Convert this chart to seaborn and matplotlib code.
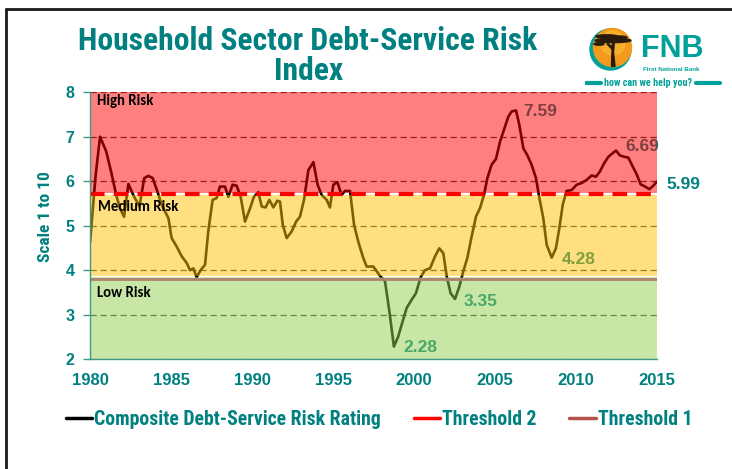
import matplotlib
matplotlib.use("Agg")
import numpy as np
import pandas as pd
import matplotlib.pyplot as plt
import seaborn as sns
from matplotlib import font_manager
from matplotlib.font_manager import FontProperties
from matplotlib.lines import Line2D
from matplotlib.patches import Circle, Ellipse, Polygon

# ---- data -------------------------------------------------------------
years = [
    1980.00, 1980.35, 1980.62, 1981.00, 1981.30, 1981.62, 1981.85, 1982.10,
    1982.37, 1982.67, 1983.05, 1983.35, 1983.60, 1983.87, 1984.16, 1984.42,
    1984.84, 1985.04, 1985.35, 1985.66, 1985.97, 1986.17, 1986.38, 1986.58,
    1986.83, 1987.10, 1987.30, 1987.57, 1987.82, 1988.02, 1988.33, 1988.54,
    1988.80, 1989.05, 1989.30, 1989.57, 1989.88, 1990.12, 1990.39, 1990.60,
    1990.84, 1991.07, 1991.32, 1991.56, 1991.73, 1991.90, 1992.14, 1992.45,
    1992.72, 1992.96, 1993.21, 1993.48, 1993.79, 1994.05, 1994.30, 1994.61,
    1994.81, 1995.02, 1995.27, 1995.53, 1995.74, 1996.05, 1996.30, 1996.56,
    1996.87, 1997.08, 1997.49, 1997.90, 1998.21, 1998.48, 1998.76, 1999.03,
    1999.30, 1999.55, 1999.85, 2000.12, 2000.41, 2000.68, 2000.99, 2001.30,
    2001.56, 2001.81, 2002.02, 2002.26, 2002.53, 2002.80, 2003.04, 2003.29,
    2003.56, 2003.83, 2004.07, 2004.32, 2004.53, 2004.79, 2005.06, 2005.31,
    2005.55, 2005.82, 2006.03, 2006.30, 2006.50, 2006.75, 2006.99, 2007.26,
    2007.53, 2007.74, 2007.98, 2008.19, 2008.50, 2008.76, 2008.97, 2009.18,
    2009.42, 2009.73, 2010.04, 2010.35, 2010.66, 2010.97, 2011.23, 2011.48,
    2011.73, 2012.00, 2012.26, 2012.47, 2012.71, 2012.96, 2013.23, 2013.50,
    2013.74, 2013.99, 2014.26, 2014.53, 2014.77, 2015.00,
]
rating = [
    4.61, 6.14, 7.00, 6.67, 6.22, 5.69, 5.39, 5.20,
    5.94, 5.69, 5.43, 6.07, 6.12, 6.07, 5.77, 5.47,
    5.17, 4.72, 4.53, 4.31, 4.16, 4.00, 4.04, 3.84,
    4.00, 4.12, 4.87, 5.58, 5.62, 5.88, 5.88, 5.65,
    5.92, 5.90, 5.65, 5.09, 5.39, 5.65, 5.75, 5.43,
    5.41, 5.58, 5.41, 5.56, 5.54, 5.02, 4.72, 4.87,
    5.09, 5.20, 5.58, 6.25, 6.43, 5.92, 5.69, 5.58,
    5.41, 5.92, 5.98, 5.69, 5.78, 5.78, 5.02, 4.64,
    4.27, 4.08, 4.08, 3.87, 3.75, 3.07, 2.28, 2.51,
    2.85, 3.15, 3.33, 3.48, 3.84, 4.00, 4.04, 4.31,
    4.49, 4.38, 3.86, 3.48, 3.35, 3.63, 3.97, 4.27,
    4.76, 5.21, 5.39, 5.69, 6.07, 6.37, 6.50, 6.89,
    7.15, 7.45, 7.57, 7.59, 7.27, 6.74, 6.59, 6.37,
    6.07, 5.62, 5.17, 4.57, 4.28, 4.49, 4.94, 5.47,
    5.78, 5.80, 5.92, 5.96, 6.03, 6.13, 6.10, 6.22,
    6.40, 6.55, 6.63, 6.69, 6.58, 6.55, 6.53, 6.33,
    6.16, 5.93, 5.88, 5.82, 5.90, 5.99,
]
threshold_2 = 5.72
threshold_1 = 3.81
zone_names = ["Low Risk", "Medium Risk", "High Risk"]
zone_low = [2.0, 3.87, 5.745]
zone_high = [3.84, 5.695, 8.0]
zone_colors = ["#92D050", "#FFC000", "#FF0000"]
x_ticks = [1980, 1985, 1990, 1995, 2000, 2005, 2010, 2015]
y_ticks = [2, 3, 4, 5, 6, 7, 8]
series_label = "Composite Debt-Service Risk Rating"
title = "Household Sector Debt-Service Risk\nIndex"

df = pd.DataFrame({"year": years, "rating": rating})

# ---- fonts / colours -----------------------------------------------------
sns.set_style("white")
fonts = font_manager.fontManager.ttflist
installed = {f.name for f in fonts}
body = "Liberation Sans" if "Liberation Sans" in installed else "DejaVu Sans"
calib = "Carlito" if "Carlito" in installed else "Lato"
plt.rcParams["font.family"] = [body, "DejaVu Sans"]


def find_condensed_bold():
    prefs = ["Liberation Sans Narrow", "Roboto Condensed", "Open Sans Condensed",
             "DejaVu Sans Condensed", "Noto Sans Condensed"]
    cands = [f for f in fonts
             if ("Narrow" in f.name or "Condensed" in f.name
                 or "Condensed" in f.fname or "condensed" in str(f.stretch))
             and (f.weight in ("bold", 700) or "Bold" in f.fname)
             and "Oblique" not in f.fname and "Italic" not in f.fname]
    for p in prefs:
        for f in cands:
            if f.name == p or p.replace(" ", "") in f.fname.replace(" ", ""):
                return f.fname
    return cands[0].fname if cands else None


cond_file = find_condensed_bold()
if cond_file:
    def narrow_fp(size):
        return FontProperties(fname=cond_file, size=size)
else:
    def narrow_fp(size):
        return FontProperties(family=[body, "DejaVu Sans"], weight="bold", size=size * 0.88)

TEAL = "#008080"
AXIS = "#3D9A84"

fig = plt.figure(figsize=(7.32, 4.69), dpi=100)
ax = fig.add_axes([90 / 732, 1 - 359 / 469, 567 / 732, (359 - 92.3) / 469])

# dashed grid sits under the coloured zones
ax.set_axisbelow(True)
ax.yaxis.grid(True, color="#3c3c3c", lw=0.9, ls=(0, (5, 3)))
ax.xaxis.grid(False)

# series (under the translucent zones so it picks up their tint)
sns.lineplot(data=df, x="year", y="rating", ax=ax, color="black", lw=1.9,
             zorder=2, legend=False)

vals = np.asarray(rating)
yrs = np.asarray(years)


def mark(idx, dx, dy, color, z):
    ax.annotate(f"{vals[idx]:.2f}", (yrs[idx], vals[idx]), xytext=(dx, dy),
                textcoords="offset points", ha="left", va="center",
                fontsize=12.5, fontweight="bold", color=color, zorder=z,
                annotation_clip=False)


i_max = int(np.argmax(vals))
i_min = int(np.argmin(vals))
i_2012 = int(np.argmax(np.where(yrs > 2010, vals, -1)))
i_2002 = int(np.argmin(np.where((yrs > 2001.5) & (yrs < 2004), vals, 99)))
i_2008 = int(np.argmin(np.where(yrs > 2007.5, vals, 99)))
mark(i_max, 5, -1, TEAL, 2)
mark(i_2012, 7, 3, TEAL, 2)
mark(i_2008, 7, -1, TEAL, 2)
mark(i_2002, 6, -2, TEAL, 2)
mark(i_min, 6.5, -1, TEAL, 2)
mark(len(vals) - 1, 6.5, -2, TEAL, 6)

# risk zones
for lo, hi, c in zip(zone_low, zone_high, zone_colors):
    ax.axhspan(lo, hi, color=c, alpha=0.5, lw=0, zorder=3)

ax.axhline(threshold_2, color="#FF0000", lw=3, ls=(0, (3.5, 2.2)), zorder=4)
ax.axhline(threshold_1, color="#B08070", lw=2, zorder=4)

zone_text_pos = [(1980.45, 3.48), (1980.5, 5.43), (1980.42, 7.8)]
for name, (tx, ty) in zip(zone_names, zone_text_pos):
    ax.text(tx, ty, name, fontsize=10.6, fontweight="bold", family=calib,
            color="black", ha="left", va="center", zorder=5)

# axes
ax.set_xlim(1980, 2015)
ax.set_ylim(2, 8)
ax.set_xticks(x_ticks)
ax.set_xticks(np.arange(1980, 2016, 1), minor=True)
ax.set_yticks(y_ticks)
ax.tick_params(axis="x", which="both", direction="out", length=5, width=1,
               color=AXIS, pad=5, labelsize=12, labelcolor=TEAL)
ax.tick_params(axis="y", which="both", direction="out", length=5, width=1,
               color=AXIS, pad=6, labelsize=11.5, labelcolor=TEAL, left=True)
for lab in ax.get_xticklabels() + ax.get_yticklabels():
    lab.set_fontweight("bold")
for side in ["top", "right"]:
    ax.spines[side].set_visible(False)
for side in ["left", "bottom"]:
    ax.spines[side].set_color(AXIS)
    ax.spines[side].set_linewidth(1)
    ax.spines[side].set_zorder(6)
ax.set_xlabel("")
ax.set_ylabel("Scale 1 to 10", color=TEAL, fontproperties=narrow_fp(12.5))
ax.yaxis.set_label_coords(-0.066, 0.535)

# title
fig.text(0.421, 1 - 56 / 469, title, ha="center", va="center", color=TEAL,
         fontproperties=narrow_fp(22.8), linespacing=1.0)

# legend
handles = [Line2D([], [], color="black", lw=2.5),
           Line2D([], [], color="#FF0000", lw=2.5),
           Line2D([], [], color="#B5504A", lw=2.5)]
labels = [series_label, "Threshold 2", "Threshold 1"]
fig.legend(handles, labels, loc="center", bbox_to_anchor=(0.518, 1 - 419 / 469),
           ncol=3, frameon=False, handlelength=1.35, handletextpad=0.1,
           columnspacing=1.65, labelcolor=TEAL, prop=narrow_fp(14.2))

# page frame
fig.add_artist(Line2D([6 / 732, 6 / 732], [0, 1 - 9 / 469], transform=fig.transFigure,
                      color="#1a1a1a", lw=2))
fig.add_artist(Line2D([6 / 732, 1], [1 - 9 / 469, 1 - 9 / 469], transform=fig.transFigure,
                      color="#1a1a1a", lw=2))

# bank logo
logo = fig.add_axes([585 / 732, 1 - 92 / 469, 140 / 732, 70 / 469])
logo.set_xlim(0, 140)
logo.set_ylim(70, 0)
logo.set_aspect("equal")
logo.axis("off")
LOGO_TEAL = "#00A19A"
TREE = "#2A1A0C"
logo.add_patch(Circle((25.5, 27.5), 20.5, color=LOGO_TEAL))
logo.add_patch(Circle((27.5, 25.5), 19, color="#F39A1E"))
logo.add_patch(Circle((28, 21), 12, color="#FBC234", alpha=0.55))
# acacia: thin curved trunk and a flat layered canopy
logo.add_patch(Polygon([(27.5, 19), (29.5, 19), (28.5, 30), (30, 44.3), (26.5, 44.3),
                        (27, 30)], color=TREE))
logo.add_patch(Polygon([(28.5, 26), (23, 21.5), (22, 22), (27.8, 28)], color=TREE))
logo.add_patch(Ellipse((28, 18.5), 36, 4.2, color=TREE))
logo.add_patch(Ellipse((22, 14.5), 22, 3.4, color=TREE))
logo.add_patch(Ellipse((34, 15.5), 16, 3.0, color=TREE))
logo.add_patch(Ellipse((14, 22), 10, 2.4, color=TREE))
logo.text(56, 26.5, "FNB", fontsize=22, fontweight="heavy", color=LOGO_TEAL,
          ha="left", va="center", family=body)
logo.text(58, 47, "First National Bank", fontsize=4.5, fontweight="bold",
          color=LOGO_TEAL, ha="left", va="center", family=body)
logo.text(63.5, 60.5, "how can we help you?", color=LOGO_TEAL, ha="center",
          va="center", fontproperties=narrow_fp(7.3))
logo.plot([1, 16], [60.5, 60.5], color=LOGO_TEAL, lw=3, solid_capstyle="round")
logo.plot([111, 135], [60.5, 60.5], color=LOGO_TEAL, lw=3, solid_capstyle="round")

fig.savefig("out.png", dpi=100)
